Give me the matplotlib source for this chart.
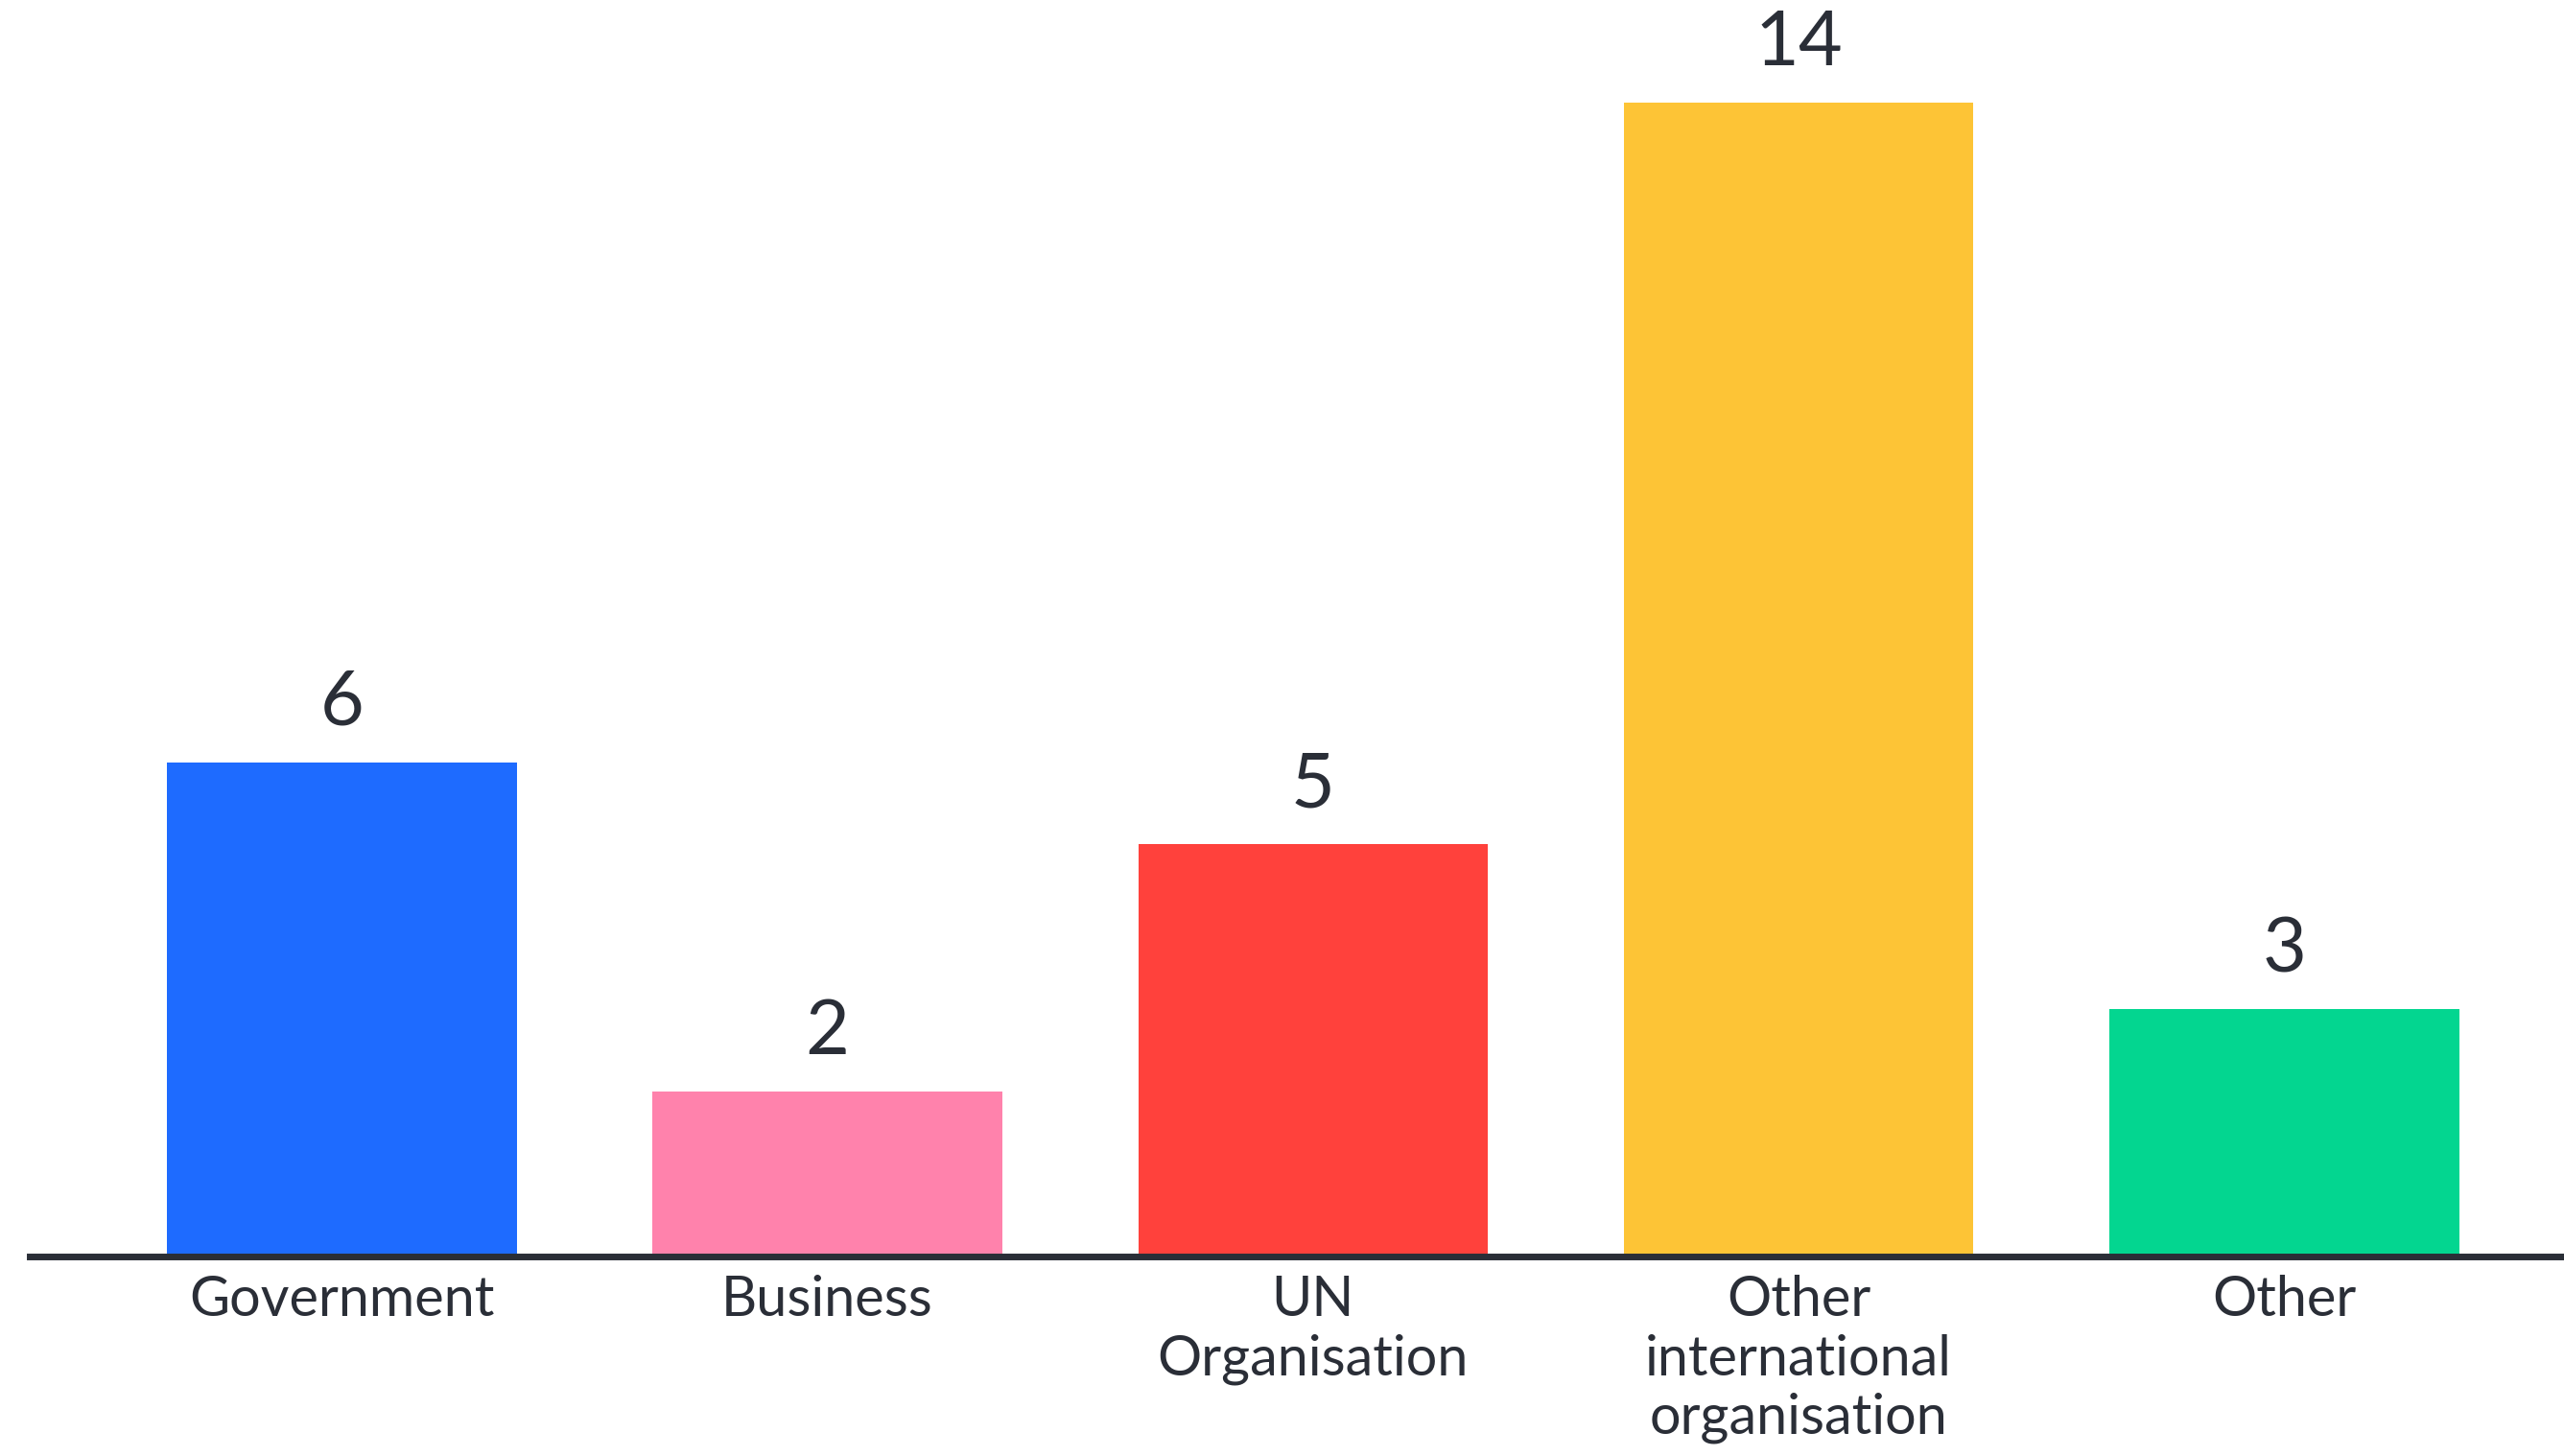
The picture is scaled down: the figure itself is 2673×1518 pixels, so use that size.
import numpy as np
import matplotlib.pyplot as plt

# Data
categories = ['Government', 'Business', 'UN\nOrganisation', 'Other\ninternational\norganisation', 'Other']
values = [6, 2, 5, 14, 3]
colors = ['#1E6BFF', '#FF82AC', '#FF413C', '#FDC436', '#03D690']

text_color = '#2A2E37'
plt.rcParams['font.family'] = ['Lato', 'DejaVu Sans']

fig = plt.figure(figsize=(26.73, 15.18), dpi=100)
ax = fig.add_axes([0.0115, 0.137, 0.9885, 0.849])

x = np.arange(len(categories))
bars = ax.bar(x, values, width=0.72, color=colors, zorder=2)
ax.bar_label(bars, labels=[str(v) for v in values], padding=18,
             fontsize=57, color=text_color)

ax.set_xlim(-0.643, 4.576)
ax.set_ylim(0, 15)
ax.set_xticks(x)
ax.set_xticklabels(categories, fontsize=41.5, color=text_color, linespacing=1.19)
ax.tick_params(axis='x', length=0, pad=14)
ax.set_yticks([])

for side in ['top', 'right', 'left']:
    ax.spines[side].set_visible(False)
ax.spines['bottom'].set_linewidth(5)
ax.spines['bottom'].set_color(text_color)
ax.spines['bottom'].set_zorder(3)

fig.savefig('out.png', dpi=100, facecolor='white')
